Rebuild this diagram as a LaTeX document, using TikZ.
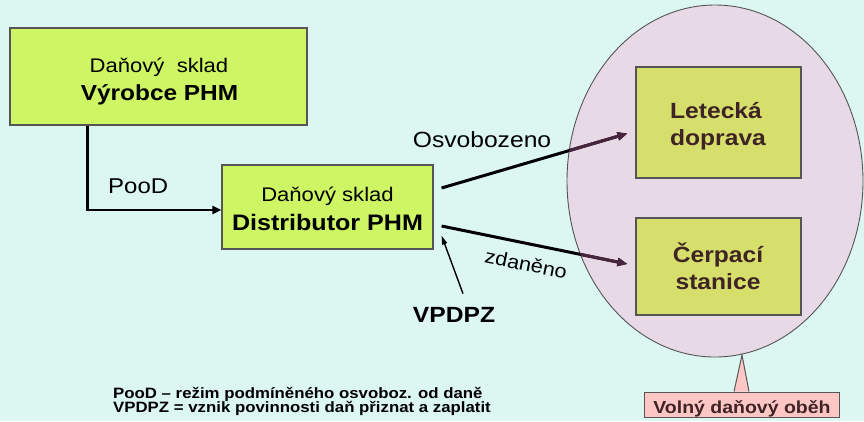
\documentclass[tikz,border=0pt]{standalone}
\usepackage{fontspec}
\newfontfamily\arial{Liberation Sans}[FakeStretch=1.12]
\usetikzlibrary{arrows.meta}
\definecolor{bg}{RGB}{220,246,241}
\definecolor{lime}{RGB}{206,246,100}
\definecolor{olive}{RGB}{214,222,108}
\definecolor{lilac}{RGB}{231,217,229}
\definecolor{rosy}{RGB}{255,198,198}
\definecolor{edge}{RGB}{85,85,85}
\definecolor{brownink}{RGB}{62,36,36}
\definecolor{plum}{RGB}{72,36,62}
\newcommand\fsz[1]{\fontsize{#1}{#1}\selectfont}

\begin{document}
\begin{tikzpicture}[x=1pt,y=-1pt,
  box/.style={draw=edge, line width=1.1pt, inner sep=0pt},
  lbl/.style={anchor=base, inner sep=0pt},
  reg/.style={lbl, font={\arial\fsz{#1}}},
  bld/.style={lbl, font={\arial\bfseries\fsz{#1}}},
  inner/.style={lbl, font={\arial\bfseries\fsz{#1}}, text=brownink},
  flow/.style={line width=3pt, -{Triangle[length=10pt,width=8pt]}},
]
% page and background
\fill[bg] (0,0) rectangle (864,421);
\useasboundingbox (0,0) rectangle (864,421);

% free circulation area
\coordinate (ellc) at (715,181);
\draw[edge, fill=lilac, line width=0.9pt] (ellc) ellipse [x radius=148pt, y radius=176pt];

% callout with its pointer
\coordinate (tip) at (742,355);
\node[box, fill=rosy, line width=1pt, minimum width=195pt, minimum height=25pt] (vdo) at (741.5,404.5) {};
\draw[edge, fill=rosy, line width=1pt] ([xshift=-7.5pt]vdo.north) -- (tip) -- ([xshift=7.5pt]vdo.north);
\node[inner=17.4] (vdo-t) at (742,413) {Volný daňový oběh};

% warehouses
\node[box, fill=lime, minimum width=297pt, minimum height=97pt] (prod) at (158.5,76.5) {};
\node[reg=19.7] (prod-a) at (159,72) {Daňový\ \ sklad};
\node[bld=21.8] (prod-b) at (159.5,100) {Výrobce PHM};

\node[box, fill=lime, minimum width=211pt, minimum height=84pt] (dist) at (327.5,207) {};
\node[reg=19.7] (dist-a) at (327.5,201) {Daňový sklad};
\node[bld=22.4] (dist-b) at (327.5,230) {Distributor PHM};

% recipients
\node[box, fill=olive, minimum width=165pt, minimum height=111pt] (air) at (718.5,122.5) {};
\node[inner=22] (air-a) at (716,118) {Letecká};
\node[inner=22] (air-b) at (718,145) {doprava};

\node[box, fill=olive, minimum width=165pt, minimum height=97pt] (pump) at (718.5,266.5) {};
\node[inner=22] (pump-a) at (718,262) {Čerpací};
\node[inner=22] (pump-b) at (718,289) {stanice};

% flows
\draw[line width=2.5pt, -{Triangle[length=9pt,width=8pt]}]
  ([xshift=78pt]prod.south west) |- ([yshift=-3pt]dist.west);
\node[reg=21.4, anchor=base west] (pood) at (108,193) {PooD};

\draw[flow] ([xshift=8pt,yshift=19pt]dist.east) -- ([xshift=-8pt,yshift=-11pt]air.west);
\draw[flow] ([xshift=8pt,yshift=-19pt]dist.east) -- ([xshift=-8pt,yshift=2.5pt]pump.west);
\begin{scope}
  \clip (ellc) ellipse [x radius=148pt, y radius=176pt];
  \draw[flow, plum] ([xshift=8pt,yshift=19pt]dist.east) -- ([xshift=-8pt,yshift=-11pt]air.west);
  \draw[flow, plum] ([xshift=8pt,yshift=-19pt]dist.east) -- ([xshift=-8pt,yshift=2.5pt]pump.west);
\end{scope}
\node[reg=22] (osv) at (482,147) {Osvobozeno};
\node[reg=19.4, anchor=center, rotate=-11.5] (zdan) at (526,264) {zdaněno};

\node[bld=22] (vp) at (454,322) {VPDPZ};
\draw[line width=1.4pt, -{Triangle[length=9pt,width=5pt]}]
  ([xshift=9pt,yshift=13pt]vp.north) -- ([xshift=8pt,yshift=14pt]dist.south east);

% legend
\node[bld=15, anchor=base west] (leg-a) at (113,398) {PooD – režim podmíněného osvoboz. od daně};
\node[bld=15, anchor=base west] (leg-b) at (113,412) {VPDPZ = vznik povinnosti daň přiznat a zaplatit};
\end{tikzpicture}
\end{document}
